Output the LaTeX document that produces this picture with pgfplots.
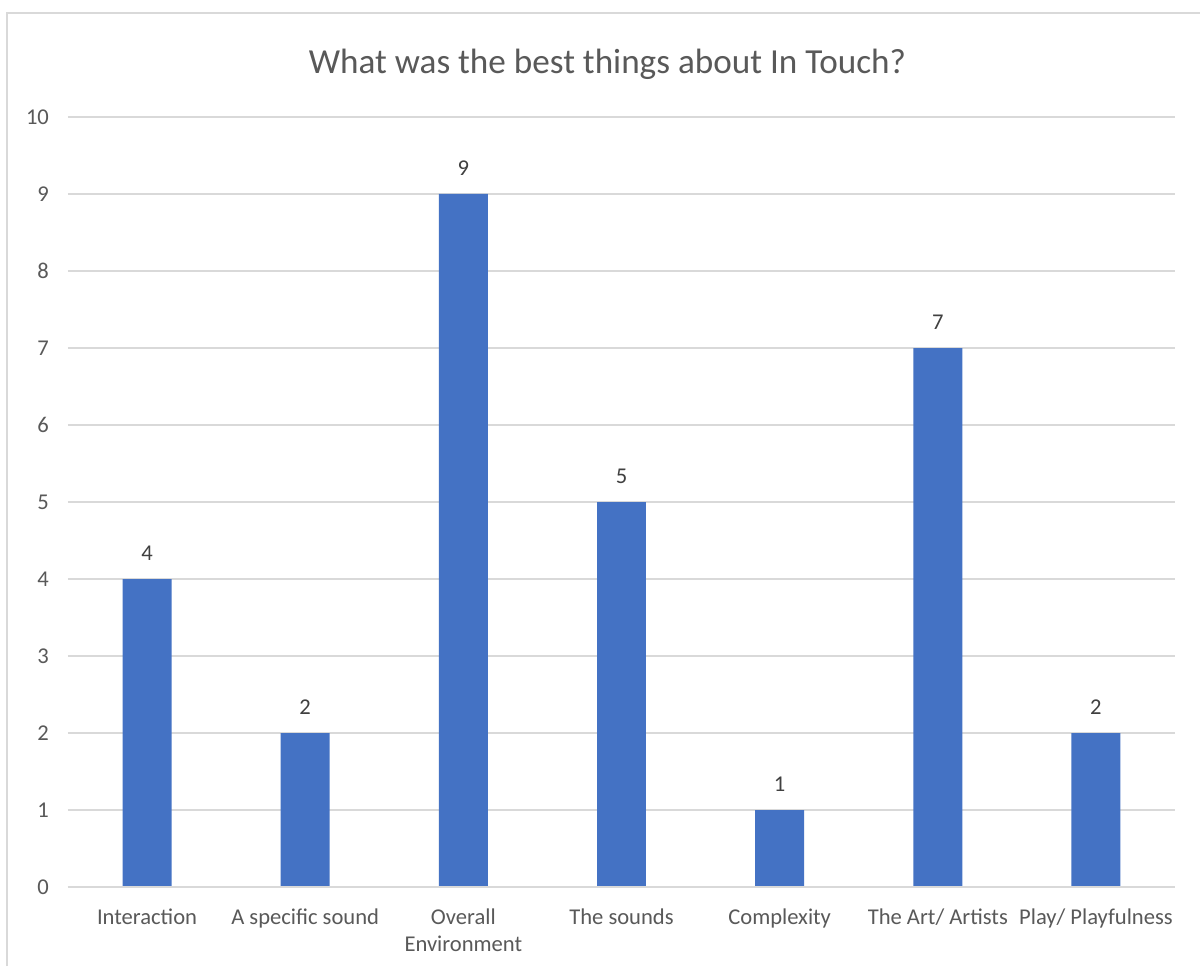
\documentclass[border=0pt]{standalone}
\usepackage{fontspec}
\setmainfont{Carlito}
\usepackage{pgfplots}
\pgfplotsset{compat=1.18}
\definecolor{barblue}{HTML}{4472C4}
\definecolor{gridgray}{HTML}{D9D9D9}
\definecolor{txtgray}{HTML}{595959}
\definecolor{lblgray}{HTML}{404040}
\begin{document}
\begin{tikzpicture}[x=1pt,y=1pt]
\fill[white] (0,0) rectangle (600.5,483.5);
\draw[gridgray, line width=1pt] (3.5,0) -- (3.5,477) -- (600.5,477);
\node[txtgray, font=\fontsize{17.6}{21}\selectfont] at (304,451.5) {What was the best things about In Touch?};
\begin{axis}[
  at={(34pt,39.5pt)}, anchor=south west,
  scale only axis, width=554pt, height=385.5pt,
  xmin=-0.5, xmax=6.5, ymin=0, ymax=10,
  ytick={0,1,...,10},
  xtick={0,1,2,3,4,5,6},
  xticklabels={Interaction, A specific sound, {Overall\\Environment}, The sounds, Complexity, The Art/ Artists, Play/ Playfulness},
  xticklabel style={align=center, font=\fontsize{11.3}{13.5}\selectfont, text=txtgray, yshift=-3pt},
  yticklabel style={font=\fontsize{11.3}{13.5}\selectfont, text=txtgray, xshift=-6pt},
  /pgf/number format/assume math mode=true,
  axis line style={draw=none},
  axis x line*=bottom,
  tick style={draw=none},
  ymajorgrids, grid style={gridgray, line width=0.8pt},
  ybar, bar width=24.5pt,
  nodes near coords,
  every node near coord/.append style={font=\fontsize{11.3}{13.5}\selectfont, text=lblgray, anchor=south, inner sep=0pt, yshift=9pt},
  clip=false,
]
\addplot[fill=barblue, draw=none] coordinates {(0,4) (1,2) (2,9) (3,5) (4,1) (5,7) (6,2)};
\draw[gridgray, line width=0.8pt] (axis cs:-0.5,0) -- (axis cs:6.5,0);
\end{axis}
\end{tikzpicture}
\end{document}
